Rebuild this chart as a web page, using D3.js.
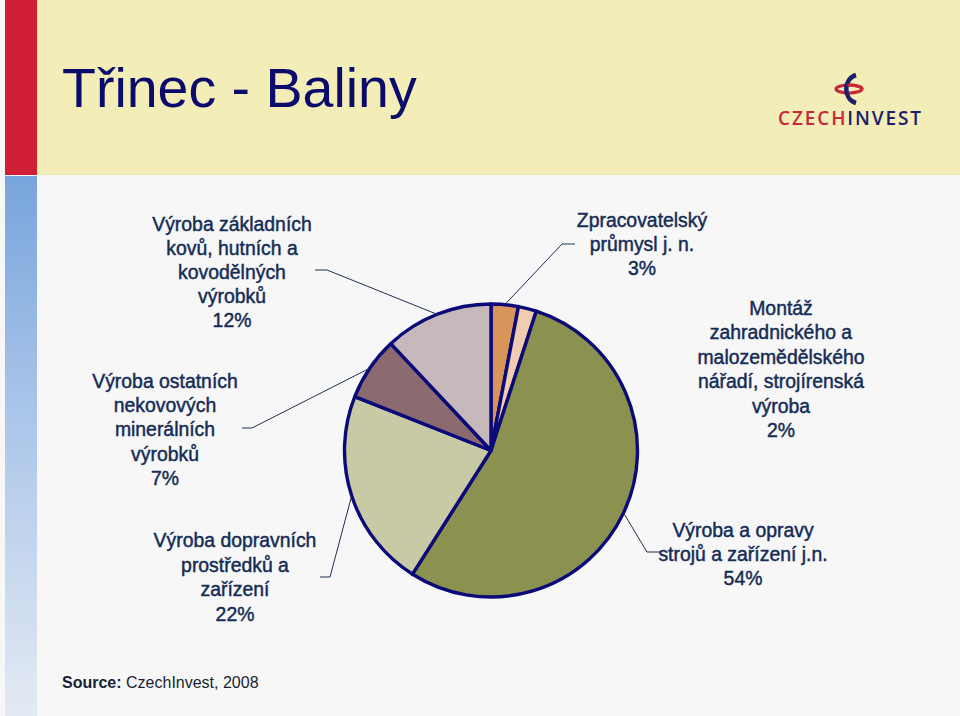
<!DOCTYPE html>
<html><head><meta charset="utf-8">
<script src="https://cdn.jsdelivr.net/npm/d3@7"></script>
<style>html,body{margin:0;padding:0;background:#f7f7f8;}svg{display:block;}</style>
</head><body>
<svg id="chart" width="960" height="716"></svg>
<script>
// ---- data ----
const categories = [
  "Zpracovatelský průmysl j. n.",
  "Montáž zahradnického a malozemědělského nářadí, strojírenská výroba",
  "Výroba a opravy strojů a zařízení j.n.",
  "Výroba dopravních prostředků a zařízení",
  "Výroba ostatních nekovových minerálních výrobků",
  "Výroba základních kovů, hutních a kovodělných výrobků"
];
const values = [3, 2, 54, 22, 7, 12];
const labelLines = [
  ["Zpracovatelský", "průmysl j. n."],
  ["Montáž", "zahradnického a", "malozemědělského", "nářadí, strojírenská", "výroba"],
  ["Výroba a opravy", "strojů a zařízení j.n."],
  ["Výroba dopravních", "prostředků a", "zařízení"],
  ["Výroba ostatních", "nekovových", "minerálních", "výrobků"],
  ["Výroba základních", "kovů, hutních a", "kovodělných", "výrobků"]
];
const sliceColors = ["#d9945a", "#f0cdb0", "#8b914f", "#c8caa6", "#8c6b70", "#c7b8bb"];
const titleText = "Třinec - Baliny";
const sourceBold = "Source:";
const sourceRest = " CzechInvest, 2008";

// ---- layout (positions, not data) ----
const cx = 491, cy = 450.5, R = 146.5;
const labelLayout = [
  {x: 642, y: 227, lh: 24, elbow: [562, 244], end: [575, 244]},
  {x: 781, y: 315, lh: 24.4, elbow: null, end: null},
  {x: 743, y: 537, lh: 24, elbow: [647, 552], end: [660, 552]},
  {x: 235, y: 547, lh: 24.5, elbow: [330, 577], end: [320, 577]},
  {x: 165, y: 388, lh: 24.2, elbow: [252, 428], end: [242, 428]},
  {x: 232, y: 231, lh: 24, elbow: [327, 270], end: [315, 270]}
];

const svg = d3.select("#chart");

// background pieces
svg.append("rect").attr("x", 0).attr("y", 0).attr("width", 960).attr("height", 716).attr("fill", "#f7f7f8");
svg.append("rect").attr("x", 37).attr("y", 0).attr("width", 923).attr("height", 175).attr("fill", "#f3edb8");
svg.append("rect").attr("x", 5).attr("y", 0).attr("width", 32).attr("height", 175).attr("fill", "#d01f34");
const defs = svg.append("defs");
const grad = defs.append("linearGradient").attr("id", "blueStripe").attr("x1", 0).attr("y1", 0).attr("x2", 0).attr("y2", 1);
grad.append("stop").attr("offset", "0%").attr("stop-color", "#78a5dc");
grad.append("stop").attr("offset", "45%").attr("stop-color", "#abc6ea");
grad.append("stop").attr("offset", "100%").attr("stop-color", "#e4eaf3");
svg.append("rect").attr("x", 5).attr("y", 176).attr("width", 32).attr("height", 540).attr("fill", "url(#blueStripe)");

// title
svg.append("text").attr("x", 62).attr("y", 107)
  .attr("font-family", "Liberation Sans, Arial, sans-serif").attr("font-size", 55.5)
  .attr("fill", "#0b0b6b").text(titleText);

// logo
const logo = svg.append("g");
logo.append("ellipse").attr("cx", 849).attr("cy", 89).attr("rx", 13).attr("ry", 4)
  .attr("fill", "none").attr("stroke", "#c8283a").attr("stroke-width", 3.2);
logo.append("path").attr("d", "M856,75 C843,79 843,99 856,103")
  .attr("fill", "none").attr("stroke", "#1c1f6b").attr("stroke-width", 4.5);
logo.append("ellipse").attr("cx", 849).attr("cy", 89).attr("rx", 13).attr("ry", 4)
  .attr("fill", "none").attr("stroke", "#c8283a").attr("stroke-width", 3.2)
  .attr("stroke-dasharray", "0 41 20 100");
const logoText = logo.append("text").attr("x", 778).attr("y", 125)
  .attr("font-family", "'Open Sans', Lato, sans-serif").attr("font-size", 19).attr("font-weight", 600)
  .attr("textLength", 143).attr("lengthAdjust", "spacing");
logoText.append("tspan").attr("fill", "#c8283a").text("CZECH");
logoText.append("tspan").attr("fill", "#1c1f6b").text("INVEST");

// pie
const pie = d3.pie().sort(null).value(d => d);
const arcs = pie(values);
const arc = d3.arc().innerRadius(0).outerRadius(R);
const g = svg.append("g").attr("transform", `translate(${cx},${cy})`);
g.selectAll("path").data(arcs).join("path")
  .attr("d", arc)
  .attr("fill", (d, i) => sliceColors[i])
  .attr("stroke", "#0a0a78").attr("stroke-width", 3.4).attr("stroke-linejoin", "round");

// leader lines
arcs.forEach((a, i) => {
  const L = labelLayout[i];
  if (!L.elbow) return;
  const mid = (a.startAngle + a.endAngle) / 2;
  const sx = cx + R * Math.sin(mid), sy = cy - R * Math.cos(mid);
  svg.append("polyline")
    .attr("points", [[sx, sy], L.elbow, L.end].map(p => p.join(",")).join(" "))
    .attr("fill", "none").attr("stroke", "#1f3050").attr("stroke-width", 1);
});

// labels
arcs.forEach((a, i) => {
  const L = labelLayout[i];
  const lines = labelLines[i].concat([d3.format(".0f")(values[i]) + "%"]);
  const t = svg.append("text").attr("text-anchor", "middle")
    .attr("font-family", "Liberation Sans, Arial, sans-serif").attr("font-size", 19.4)
    .attr("fill", "#152c55").attr("stroke", "#152c55").attr("stroke-width", 0.45);
  lines.forEach((ln, k) => {
    t.append("tspan").attr("x", L.x).attr("y", L.y + k * L.lh).text(ln);
  });
});

// source
const src = svg.append("text").attr("x", 62).attr("y", 688)
  .attr("font-family", "Liberation Sans, Arial, sans-serif").attr("font-size", 16).attr("fill", "#1a1f33");
src.append("tspan").attr("font-weight", "bold").text(sourceBold);
src.append("tspan").text(sourceRest);
</script>
</body></html>
